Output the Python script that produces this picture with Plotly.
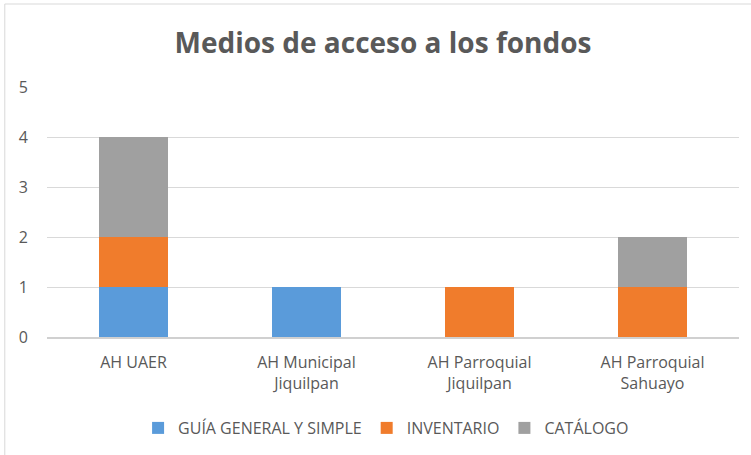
import plotly.graph_objects as go

categories = ["AH UAER", "AH Municipal<br>Jiquilpan", "AH Parroquial<br>Jiquilpan", "AH Parroquial<br>Sahuayo"]
guia = [1, 1, 0, 0]
inventario = [1, 0, 1, 1]
catalogo = [2, 0, 0, 1]
series_names = ["GUÍA GENERAL Y SIMPLE", "INVENTARIO", "CATÁLOGO"]
colors = ["#5A9BDA", "#F07C2C", "#A0A0A0"]

fig = go.Figure()
for name, vals, col in zip(series_names, [guia, inventario, catalogo], colors):
    fig.add_trace(go.Bar(
        x=categories, y=vals, name=name,
        marker=dict(color=col, line=dict(width=0)),
    ))

fig.update_layout(
    barmode="stack",
    bargap=0.6,
    width=751, height=455,
    paper_bgcolor="white", plot_bgcolor="white",
    margin=dict(l=47, r=12, t=87, b=118, autoexpand=False),
    title=dict(text="<b>Medios de acceso a los fondos</b>", x=0.51, xanchor="center",
               y=0.905, yanchor="middle",
               font=dict(family="Open Sans", size=28, color="#595959")),
    font=dict(family="Open Sans", size=16, color="#595959"),
    legend=dict(orientation="h", x=0.49, xanchor="center", y=-0.364, yanchor="middle",
                font=dict(size=16, color="#595959"), traceorder="normal",
                itemwidth=30),
    showlegend=True,
)
fig.update_yaxes(range=[0, 5], dtick=1, showgrid=True, gridcolor="#D9D9D9", gridwidth=1,
                 zeroline=False, showline=False, ticks="", ticklabelstandoff=18,
                 automargin=False, tickfont=dict(size=16, color="#595959"))
fig.update_xaxes(showline=True, linecolor="#D0D0D0", linewidth=1.5, ticks="",
                 ticklabelstandoff=10, automargin=False,
                 tickfont=dict(size=16, color="#595959"))
fig.add_shape(type="rect", xref="paper", yref="paper", x0=-0.061, x1=1.05, y0=-0.5, y1=1.332,
              line=dict(color="#D9D9D9", width=1), fillcolor="rgba(0,0,0,0)", layer="below")

fig.write_html("out.html", config={"displayModeBar": False},
               post_script="document.body.style.margin='0';")
